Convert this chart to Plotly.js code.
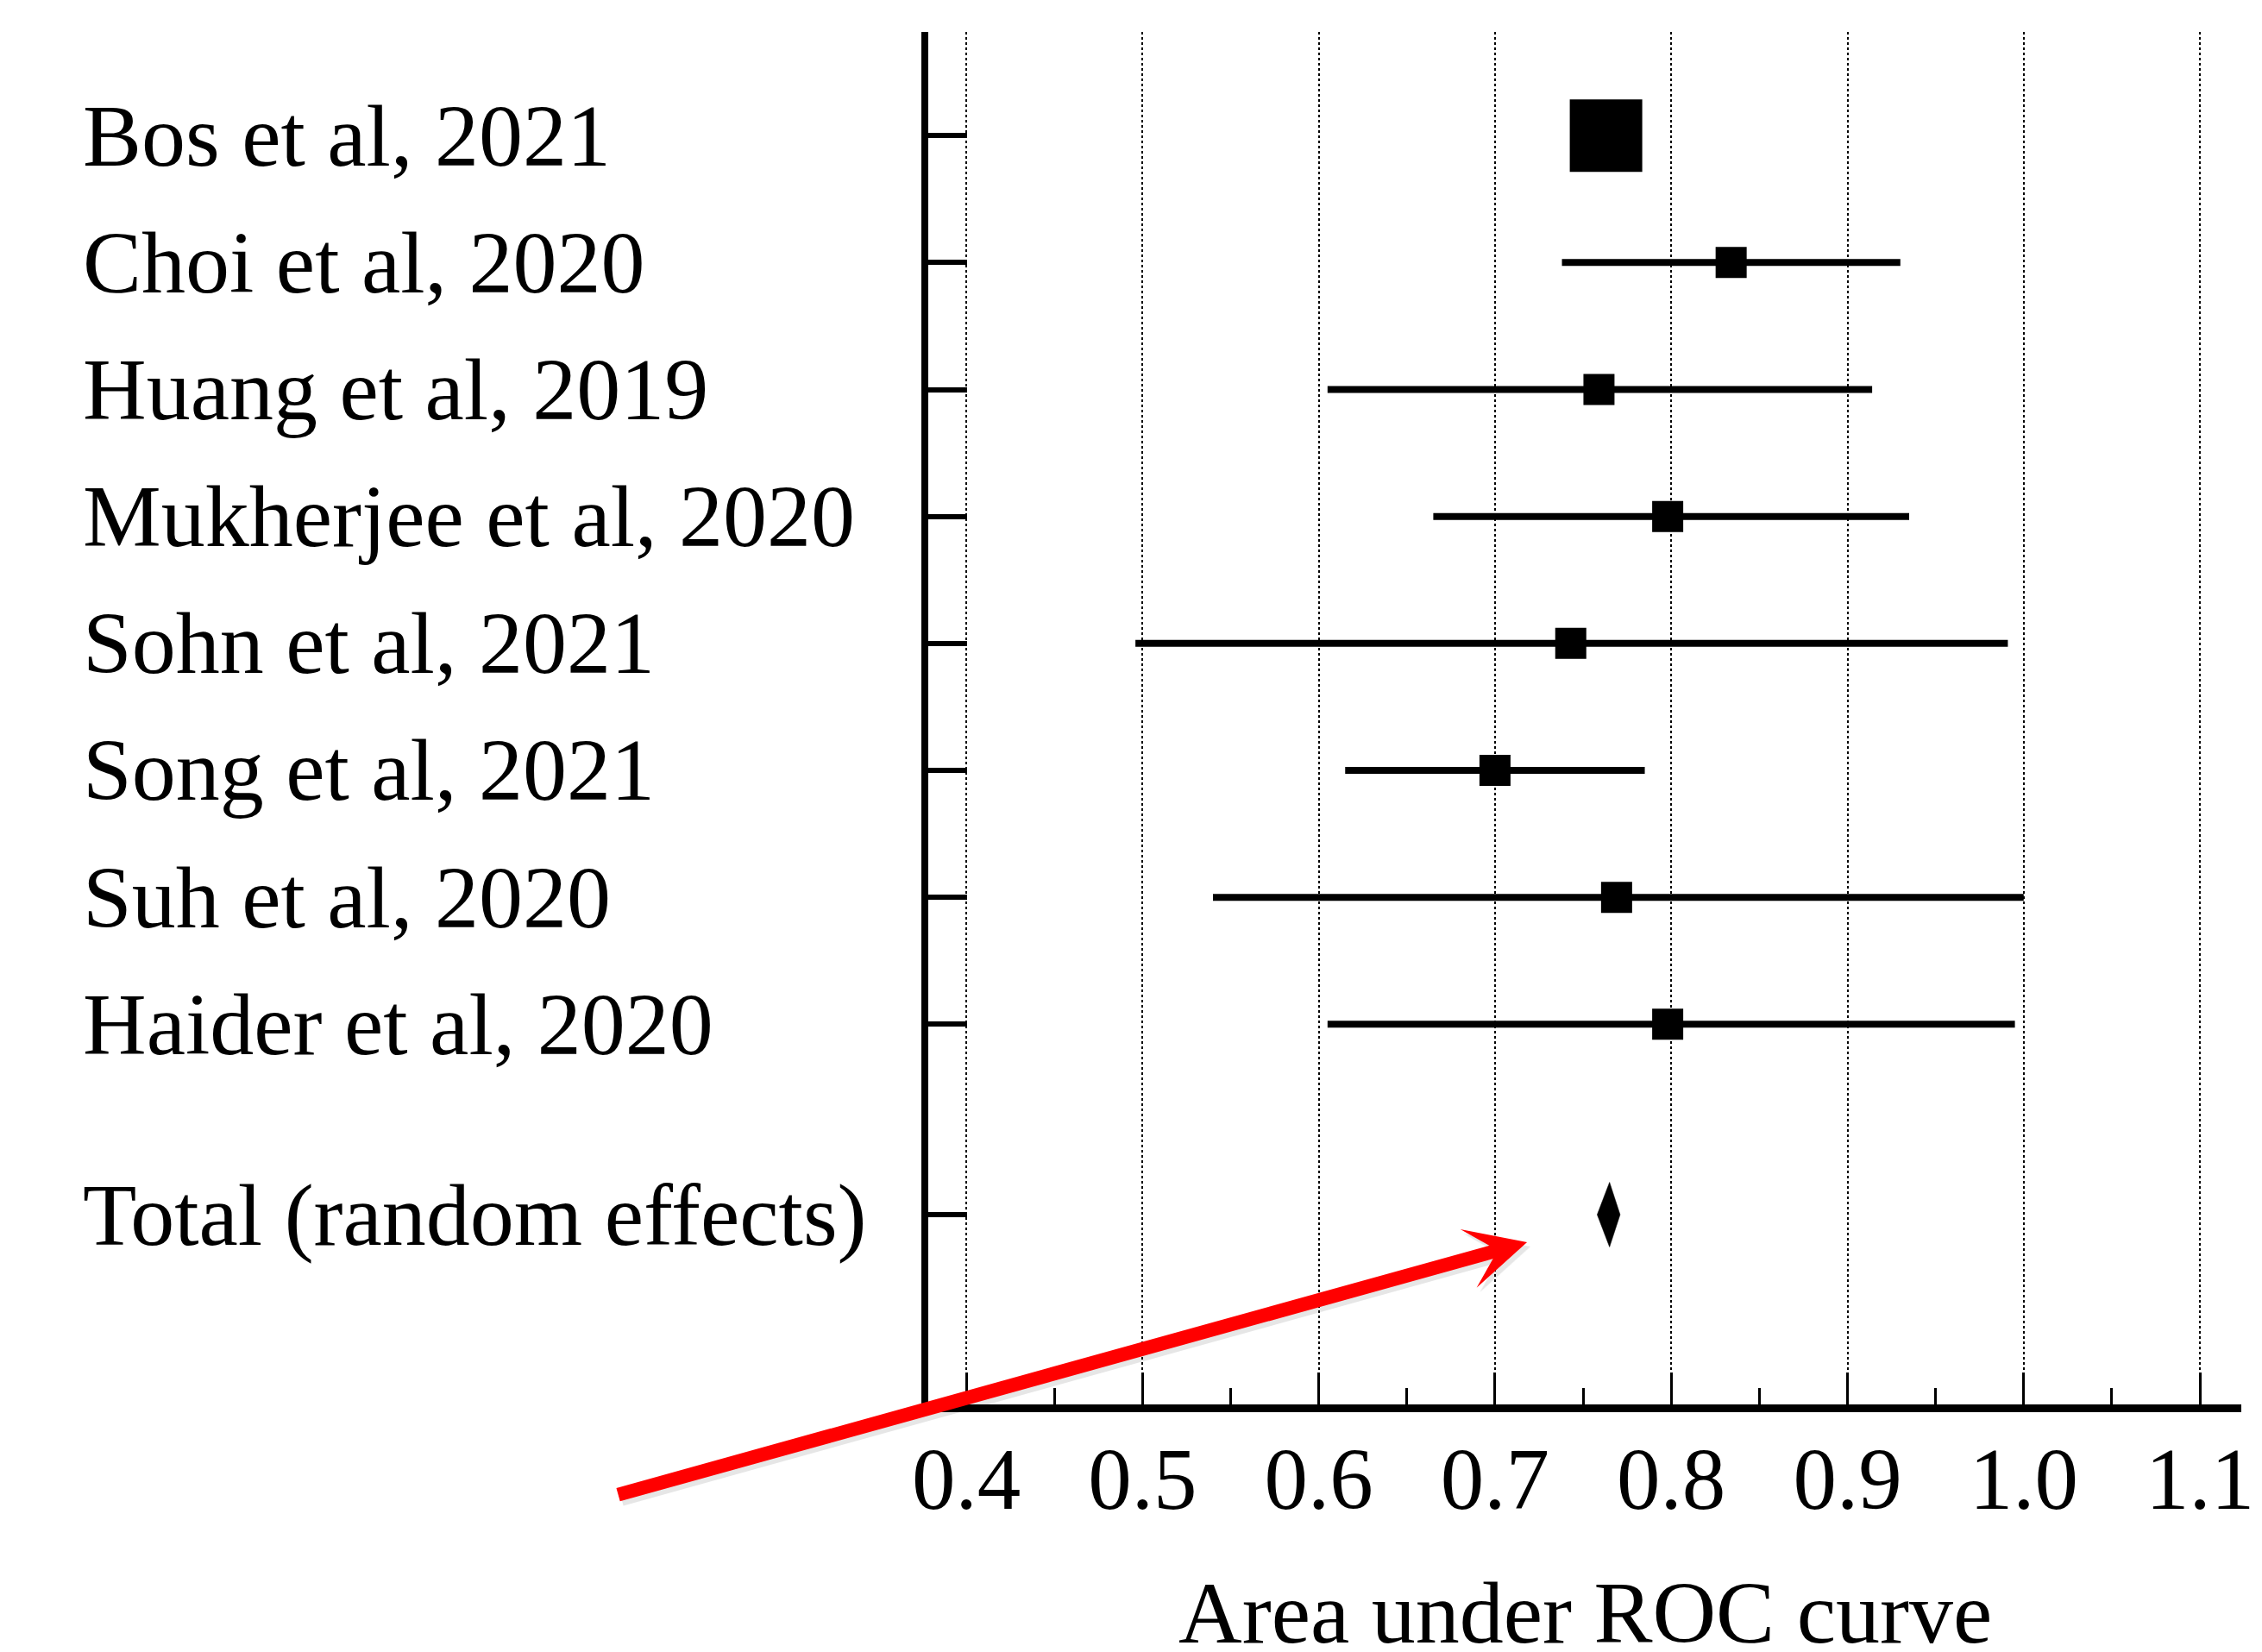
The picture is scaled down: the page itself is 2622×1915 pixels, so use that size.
<!DOCTYPE html>
<html>
<head>
<meta charset="utf-8">
<script src="https://cdn.plot.ly/plotly-3.0.1.min.js"></script>
<style>
  html, body { margin: 0; padding: 0; background: #ffffff; }
  #chart { width: 2622px; height: 1915px; }
</style>
</head>
<body>
<div id="chart"></div>
<script>
// ---- data ----
const studies = ["Bos et al, 2021", "Choi et al, 2020", "Huang et al, 2019", "Mukherjee et al, 2020",
                 "Sohn et al, 2021", "Song et al, 2021", "Suh et al, 2020", "Haider et al, 2020"];
const auc     = [0.763, 0.834, 0.759, 0.798, 0.743, 0.700, 0.769, 0.798];
const ciLow   = [0.752, 0.738, 0.605, 0.665, 0.496, 0.615, 0.540, 0.605];
const ciHigh  = [0.774, 0.930, 0.914, 0.935, 0.991, 0.785, 1.000, 0.995];
const totalLabel = "Total (random effects)";
const totalAuc  = 0.765;
const totalLow  = 0.758;
const totalHigh = 0.771;
const xTickVals = [0.4, 0.5, 0.6, 0.7, 0.8, 0.9, 1.0, 1.1];
const xTickText = ["0.4", "0.5", "0.6", "0.7", "0.8", "0.9", "1.0", "1.1"];
const xTitle = "Area under ROC curve";

// ---- layout helpers (positions / styles) ----
const rowPos = studies.map((s, i) => i);
const totalPos = studies.length + 0.5;
const markerSizes = studies.map((s, i) => i === 0 ? 84 : 36);
const diamondHalf = 0.255;
const FONT = "Liberation Serif, Times New Roman, serif";

const traces = [
  {
    type: "scatter", mode: "markers",
    x: auc, y: rowPos,
    marker: { symbol: "square", size: markerSizes, sizemode: "diameter", opacity: 1,
              color: "#000000", line: { width: 0 } },
    error_x: {
      type: "data", symmetric: false,
      array: auc.map((v, i) => ciHigh[i] - v),
      arrayminus: auc.map((v, i) => v - ciLow[i]),
      color: "#000000", thickness: 8, width: 0
    },
    hoverinfo: "x", showlegend: false, cliponaxis: false
  },
  {
    type: "scatter", mode: "lines",
    x: [totalLow, totalAuc, totalHigh, totalAuc, totalLow],
    y: [totalPos, totalPos - diamondHalf, totalPos, totalPos + diamondHalf, totalPos],
    fill: "toself", fillcolor: "#000000",
    line: { color: "#000000", width: 0.5 },
    hoverinfo: "skip", showlegend: false
  }
];

const labelAnnotations = studies.concat([totalLabel]).map((t, i) => ({
  text: t, xref: "paper", yref: "y",
  x: -0.6452, y: i < studies.length ? rowPos[i] : totalPos,
  xanchor: "left", yanchor: "middle", showarrow: false,
  font: { family: FONT, size: 102, color: "#000000" }
}));

const titleAnnotation = {
  text: xTitle, xref: "paper", yref: "paper",
  x: 0.5, y: -0.1521, xanchor: "center", yanchor: "middle", showarrow: false,
  font: { family: FONT, size: 102, color: "#000000" }
};

const arrowShadow = {
  xref: "x", yref: "y", x: 0.7201, y: 8.752,
  axref: "pixel", ayref: "pixel", ax: -1055, ay: 293,
  showarrow: true, arrowhead: 3, arrowsize: 0.734, arrowwidth: 16,
  arrowcolor: "rgba(0,0,0,0.10)", text: ""
};
const arrow = {
  xref: "x", yref: "y", x: 0.7182, y: 8.7175,
  axref: "pixel", ayref: "pixel", ax: -1055, ay: 293,
  showarrow: true, arrowhead: 3, arrowsize: 0.734, arrowwidth: 16,
  arrowcolor: "#ff0000", text: ""
};

const layout = {
  width: 2622, height: 1915,
  paper_bgcolor: "#ffffff", plot_bgcolor: "#ffffff",
  margin: { l: 1076, r: 24, t: 37, b: 287 },
  font: { family: FONT, color: "#000000" },
  showlegend: false,
  xaxis: {
    range: [0.37846, 1.12345],
    tickvals: xTickVals, ticktext: xTickText,
    ticks: "inside", ticklen: 37, tickwidth: 3, tickcolor: "#000000",
    tickfont: { family: FONT, size: 101, color: "#000000" },
    ticklabelstandoff: -9,
    showline: true, linewidth: 9, linecolor: "#000000",
    showgrid: true, gridcolor: "#000000", gridwidth: 2, griddash: "dot",
    zeroline: false,
    minor: { dtick: 0.05, tick0: 0.05, ticks: "inside", ticklen: 19, tickwidth: 3, tickcolor: "#000000", showgrid: false },
    automargin: false, fixedrange: true
  },
  yaxis: {
    range: [9.995, -0.817],
    tickvals: rowPos.concat([totalPos]),
    showticklabels: false,
    ticks: "inside", ticklen: 45, tickwidth: 6, tickcolor: "#000000",
    showline: true, linewidth: 8, linecolor: "#000000",
    showgrid: false, zeroline: false,
    automargin: false, fixedrange: true
  },
  annotations: labelAnnotations.concat([titleAnnotation, arrowShadow, arrow])
};

Plotly.newPlot("chart", traces, layout, { displayModeBar: false, staticPlot: true });
</script>
</body>
</html>
